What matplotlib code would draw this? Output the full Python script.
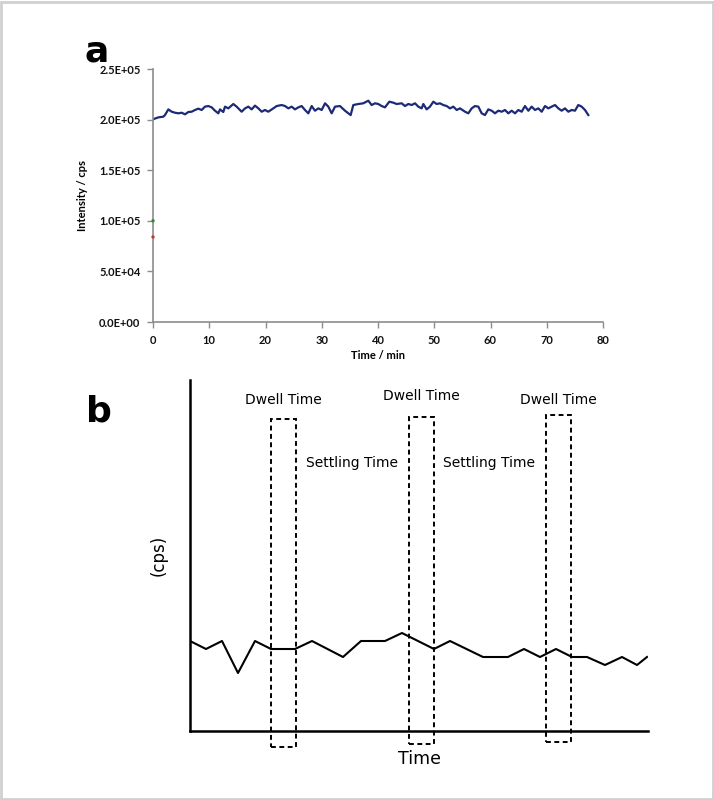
import matplotlib
matplotlib.use("Agg")
import matplotlib.pyplot as plt
from matplotlib.patches import Rectangle
from matplotlib.ticker import FuncFormatter

# panel a: intensity vs time (in units of 1e5 cps)
time_min = [0, 0.95, 1.84, 2.13, 2.73, 3.32, 3.91, 4.50, 5.10, 5.69, 6.28, 6.87, 7.47, 8.06,
            8.65, 9.24, 9.84, 10.43, 11.02, 11.61, 11.91, 12.50, 12.80, 13.39, 14.28, 14.87,
            15.76, 16.36, 16.95, 17.54, 18.13, 18.73, 19.32, 19.91, 20.50, 21.39, 21.99,
            22.87, 23.47, 24.06, 24.65, 25.24, 25.84, 26.43, 27.02, 27.61, 28.21, 28.80,
            29.39, 29.99, 30.58, 31.17, 31.76, 32.36, 33.24, 34.13, 34.73, 35.14, 35.61,
            36.50, 37.39, 38.28, 38.87, 39.47, 40.06, 40.65, 41.24, 42.01, 42.73, 43.32,
            44.21, 44.80, 45.39, 45.99, 46.58, 47.17, 47.76, 48.06, 48.65, 49.24, 49.84,
            50.43, 51.02, 51.61, 52.21, 52.80, 53.39, 53.99, 54.58, 55.47, 56.06, 56.65,
            57.24, 57.84, 58.43, 59.02, 59.61, 60.21, 60.80, 61.39, 61.99, 62.58, 63.17,
            63.76, 64.36, 64.95, 65.54, 66.13, 66.73, 67.32, 67.91, 68.50, 69.10, 69.69,
            70.28, 70.87, 71.47, 72.06, 72.65, 73.24, 73.84, 74.43, 75.02, 75.61, 76.21,
            76.80, 77.39]
intensity_e5 = [2.003, 2.022, 2.029, 2.045, 2.101, 2.078, 2.068, 2.062, 2.068, 2.052, 2.075,
                2.078, 2.095, 2.108, 2.095, 2.128, 2.134, 2.121, 2.088, 2.062, 2.101, 2.075,
                2.128, 2.111, 2.154, 2.128, 2.078, 2.111, 2.128, 2.101, 2.138, 2.111, 2.078,
                2.095, 2.078, 2.111, 2.134, 2.144, 2.134, 2.111, 2.128, 2.101, 2.121, 2.134,
                2.095, 2.062, 2.134, 2.088, 2.111, 2.095, 2.161, 2.128, 2.062, 2.128, 2.134,
                2.088, 2.062, 2.045, 2.144, 2.154, 2.161, 2.187, 2.144, 2.161, 2.154, 2.134,
                2.121, 2.177, 2.167, 2.154, 2.161, 2.134, 2.154, 2.144, 2.161, 2.128, 2.111,
                2.154, 2.101, 2.128, 2.177, 2.154, 2.161, 2.144, 2.134, 2.111, 2.128, 2.095,
                2.111, 2.078, 2.062, 2.111, 2.134, 2.128, 2.062, 2.045, 2.101, 2.088, 2.062,
                2.088, 2.078, 2.095, 2.062, 2.088, 2.062, 2.095, 2.078, 2.134, 2.088, 2.128,
                2.095, 2.111, 2.078, 2.134, 2.111, 2.128, 2.144, 2.111, 2.088, 2.111, 2.078,
                2.095, 2.088, 2.144, 2.128, 2.095, 2.045]
# two stray single points at t=0
stray_values = [1.0e5, 0.84e5]
stray_colors = ["#2e8b2e", "#c0392b"]

# panel b: schematic signal (arbitrary units)
sig_t = [0, 16, 32, 48, 65, 81, 105, 122, 153, 171, 195, 212, 244, 260, 293, 318, 334,
         350, 366, 382, 397, 415, 432, 447, 457]
sig_y = [90, 82, 90, 58, 90, 82, 82, 90, 74, 90, 90, 98, 82, 90, 74, 74, 82, 74, 82, 74,
         74, 66, 74, 66, 74]
dwell_start = [81, 219, 356]
dwell_top = [312, 314, 316]
dwell_bottom = [-16, -13, -11]
dwell_width = 25

fig = plt.figure(figsize=(7.14, 8), dpi=100)
fig.patches.append(Rectangle((0.001, 0.001), 0.997, 0.997, transform=fig.transFigure,
                             fill=False, edgecolor="#d0d0d0", linewidth=2))

# ---- panel a
ax = fig.add_axes([153 / 714, 1 - 322 / 800, 450 / 714, 253 / 800])
ax.plot(time_min, [v * 1e5 for v in intensity_e5], color="#1c2a78", linewidth=1.6)
ax.scatter([0, 0], stray_values, s=2, c=stray_colors, zorder=3, clip_on=False)
ax.set_xlim(0, 80)
ax.set_ylim(0, 2.5e5)
ax.set_xticks(range(0, 81, 10))
ax.set_yticks([0, 0.5e5, 1.0e5, 1.5e5, 2.0e5, 2.5e5])
ax.yaxis.set_major_formatter(FuncFormatter(lambda v, p: "{:.1E}".format(v)))
for s in ["top", "right"]:
    ax.spines[s].set_visible(False)
for s in ["left", "bottom"]:
    ax.spines[s].set_color("#8c8c8c")
    ax.spines[s].set_linewidth(1.2)
ax.tick_params(axis="both", colors="#8c8c8c", length=4, width=1, labelcolor="#111111",
               labelsize=8, pad=5)
for lab in ax.get_xticklabels() + ax.get_yticklabels():
    lab.set_fontweight("bold")
    lab.set_fontfamily("Lato")
ax.set_xlabel("Time / min", fontsize=8, fontweight="bold", fontfamily="Lato", labelpad=3)
ax.set_ylabel("Intensity / cps", fontsize=8, fontweight="bold", fontfamily="Lato", labelpad=8)
fig.text(97 / 714, 1 - 51 / 800, "a", fontsize=26, fontweight="bold", ha="center", va="center")

# ---- panel b
bx = fig.add_axes([190 / 714, 1 - 731 / 800, 458 / 714, 351 / 800])
bx.plot(sig_t, sig_y, color="black", linewidth=1.5)
bx.set_xlim(0, 458)
bx.set_ylim(0, 351)
for s in ["top", "right"]:
    bx.spines[s].set_visible(False)
for s in ["left", "bottom"]:
    bx.spines[s].set_linewidth(1.8)
bx.set_xticks([])
bx.set_yticks([])
for x0, top, bot in zip(dwell_start, dwell_top, dwell_bottom):
    bx.add_patch(Rectangle((x0, bot), dwell_width, top - bot, fill=False, edgecolor="black",
                           linestyle=(0, (2.5, 1.8)), linewidth=1.4, clip_on=False))
dwell_label_y = [331, 335, 331]
for x0, ly in zip(dwell_start, dwell_label_y):
    bx.text(x0 + dwell_width / 2, ly, "Dwell Time", fontsize=10, ha="center", va="center")
settle_x = [162, 299]
for sx in settle_x:
    bx.text(sx, 268, "Settling Time", fontsize=10, ha="center", va="center")
bx.set_xlabel("Time", fontsize=12.5, labelpad=14)
bx.set_ylabel("(cps)", fontsize=12, labelpad=16)
fig.text(99 / 714, 1 - 412 / 800, "b", fontsize=26, fontweight="bold", ha="center", va="center")

fig.savefig("out.png", dpi=100)
